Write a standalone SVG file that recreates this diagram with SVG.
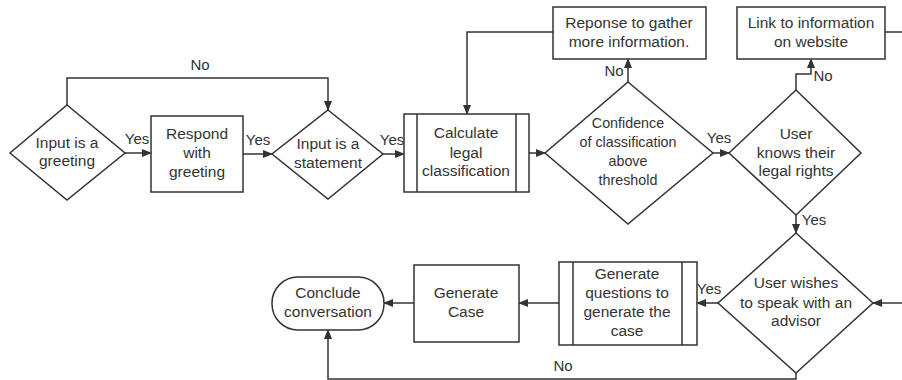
<svg xmlns="http://www.w3.org/2000/svg" width="902" height="380" viewBox="0 0 902 380">
<defs>
<marker id="arr" markerWidth="10" markerHeight="8" refX="9" refY="4" orient="auto" markerUnits="userSpaceOnUse">
<path d="M0,0 L10,4 L0,8 Z" fill="#333"/>
</marker>
<style>
.s{fill:#fff;stroke:#333;stroke-width:1.5}
.c{fill:none;stroke:#333;stroke-width:1.5}
.t{font-family:"Liberation Sans",Arial,sans-serif;font-size:15.5px;fill:#333;text-anchor:middle}
.sm{font-size:14.3px}
.l{font-family:"Liberation Sans",Arial,sans-serif;font-size:15px;fill:#333;text-anchor:middle}
</style>
</defs>
<rect width="902" height="380" fill="#fff"/>
<g id="connectors">
<path class="c" d="M125,153 L151,153" marker-end="url(#arr)"/>
<path class="c" d="M243,154 L272,154" marker-end="url(#arr)"/>
<path class="c" d="M67,105 L67,78 L328,78 L328,110" marker-end="url(#arr)"/>
<path class="c" d="M383,154 L404,154" marker-end="url(#arr)"/>
<path class="c" d="M553,32 L467,32 L467,114" marker-end="url(#arr)"/>
<path class="c" d="M529,153 L545,153" marker-end="url(#arr)"/>
<path class="c" d="M628,82 L628,59" marker-end="url(#arr)"/>
<path class="c" d="M713,153 L729,153" marker-end="url(#arr)"/>
<path class="c" d="M796,90 L796,74 L811,74 L811,59" marker-end="url(#arr)"/>
<path class="c" d="M885,32 L902,32"/>
<path class="c" d="M796,215 L796,233" marker-end="url(#arr)"/>
<path class="c" d="M902,303 L873,303" marker-end="url(#arr)"/>
<path class="c" d="M718,303 L697,303" marker-end="url(#arr)"/>
<path class="c" d="M559,303 L519,303" marker-end="url(#arr)"/>
<path class="c" d="M414,303 L384,303" marker-end="url(#arr)"/>
<path class="c" d="M796,373 L796,379 L328,379 L328,330" marker-end="url(#arr)"/>
<text class="l" x="137" y="144">Yes</text>
<text class="l" x="258" y="145">Yes</text>
<text class="l" x="200" y="70">No</text>
<text class="l" x="392" y="145">Yes</text>
<text class="l" x="614" y="76">No</text>
<text class="l" x="719" y="143">Yes</text>
<text class="l" x="823" y="81">No</text>
<text class="l" x="814" y="225">Yes</text>
<text class="l" x="709" y="294">Yes</text>
<text class="l" x="563" y="371">No</text>
</g>
<g id="n1"><path class="s" d="M67,105 L125,153 L67,200 L10,153 Z"/><text class="t" x="67" y="147.5">Input is a</text><text class="t" x="67" y="165.5">greeting</text></g>
<g id="n2"><rect class="s" x="151" y="116" width="92" height="76"/><text class="t" x="197" y="138.5">Respond</text><text class="t" x="197" y="157.5">with</text><text class="t" x="197" y="176.5">greeting</text></g>
<g id="n3"><path class="s" d="M328,110 L383,154 L328,199 L272,154 Z"/><text class="t" x="328" y="148.5">Input is a</text><text class="t" x="328" y="167.5">statement</text></g>
<g id="n4"><rect class="s" x="404" y="114" width="125" height="78"/><path class="c" d="M417,114 L417,192 M516,114 L516,192"/><text class="t" x="466" y="137.5">Calculate</text><text class="t" x="466" y="157.5">legal</text><text class="t" x="466" y="175.5">classification</text></g>
<g id="n5"><rect class="s" x="553" y="7" width="153" height="52"/><text class="t" x="629" y="27.5">Reponse to gather</text><text class="t" x="629" y="46.5">more information.</text></g>
<g id="n6"><path class="s" d="M628,82 L713,153 L628,224 L545,153 Z"/><text class="t sm" x="628" y="128">Confidence</text><text class="t sm" x="628" y="147">of classification</text><text class="t sm" x="628" y="166">above</text><text class="t sm" x="628" y="185">threshold</text></g>
<g id="n7"><rect class="s" x="737" y="7" width="148" height="52"/><text class="t" x="811" y="27.5">Link to information</text><text class="t" x="811" y="46.5">on website</text></g>
<g id="n8"><path class="s" d="M796,90 L861,153 L796,215 L729,153 Z"/><text class="t" x="796" y="138.5">User</text><text class="t" x="796" y="157.5">knows their</text><text class="t" x="796" y="175.5">legal rights</text></g>
<g id="n9"><path class="s" d="M796,233 L873,303 L796,373 L718,303 Z"/><text class="t" x="796" y="287.5">User wishes</text><text class="t" x="796" y="307.5">to speak with an</text><text class="t" x="796" y="325.5">advisor</text></g>
<g id="n10"><rect class="s" x="559" y="262" width="138" height="83"/><path class="c" d="M573,262 L573,345 M682,262 L682,345"/><text class="t" x="627" y="278.5">Generate</text><text class="t" x="627" y="297.5">questions to</text><text class="t" x="627" y="316.5">generate the</text><text class="t" x="627" y="335.5">case</text></g>
<g id="n11"><rect class="s" x="414" y="265" width="105" height="77"/><text class="t" x="466" y="297.5">Generate</text><text class="t" x="466" y="316.5">Case</text></g>
<g id="n12"><rect class="s" x="272" y="277" width="112" height="53" rx="26" ry="26"/><text class="t" x="328" y="297.5">Conclude</text><text class="t" x="328" y="316.5">conversation</text></g>
</svg>
